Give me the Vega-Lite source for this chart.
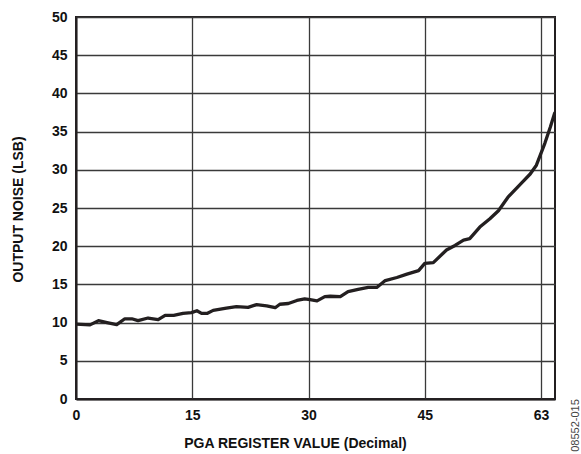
{
  "$schema": "https://vega.github.io/schema/vega-lite/v6.json",
  "width": 479,
  "height": 382,
  "autosize": {"type": "none"},
  "padding": {"left": 76, "top": 17, "right": 26, "bottom": 55},
  "background": "white",
  "config": {
    "view": {"stroke": "#231f20", "strokeWidth": 2},
    "font": "Liberation Sans",
    "axis": {
      "labelFont": "Liberation Sans",
      "labelFontWeight": "bold",
      "labelFontSize": 14,
      "labelColor": "#111",
      "titleFont": "Liberation Sans",
      "titleFontWeight": "bold",
      "titleFontSize": 14,
      "titleColor": "#111",
      "gridColor": "#3a3a3a",
      "gridWidth": 1.3,
      "gridOpacity": 1,
      "domainColor": "#231f20",
      "domainWidth": 2,
      "ticks": false
    }
  },
  "data": {
    "values": [
      {"reg": 0, "noise": 9.8},
      {"reg": 1.8, "noise": 9.7},
      {"reg": 2.9, "noise": 10.25},
      {"reg": 4.0, "noise": 10.0},
      {"reg": 5.25, "noise": 9.73},
      {"reg": 6.3, "noise": 10.5},
      {"reg": 7.2, "noise": 10.5},
      {"reg": 8.0, "noise": 10.25},
      {"reg": 9.3, "noise": 10.6},
      {"reg": 10.6, "noise": 10.4},
      {"reg": 11.5, "noise": 10.95},
      {"reg": 12.6, "noise": 10.95},
      {"reg": 13.8, "noise": 11.2},
      {"reg": 14.9, "noise": 11.3},
      {"reg": 15.6, "noise": 11.55},
      {"reg": 16.2, "noise": 11.2},
      {"reg": 16.9, "noise": 11.2},
      {"reg": 17.7, "noise": 11.6},
      {"reg": 19.4, "noise": 11.9},
      {"reg": 20.7, "noise": 12.1},
      {"reg": 22.2, "noise": 12.0},
      {"reg": 23.3, "noise": 12.35},
      {"reg": 24.6, "noise": 12.2},
      {"reg": 25.7, "noise": 11.95},
      {"reg": 26.3, "noise": 12.4},
      {"reg": 27.4, "noise": 12.5},
      {"reg": 28.5, "noise": 12.9},
      {"reg": 29.5, "noise": 13.1},
      {"reg": 30.2, "noise": 13.0},
      {"reg": 31.1, "noise": 12.85},
      {"reg": 32.1, "noise": 13.4},
      {"reg": 32.8, "noise": 13.45},
      {"reg": 34.1, "noise": 13.4},
      {"reg": 35.1, "noise": 14.05},
      {"reg": 36.4, "noise": 14.35},
      {"reg": 37.7, "noise": 14.6},
      {"reg": 38.8, "noise": 14.6},
      {"reg": 39.9, "noise": 15.5},
      {"reg": 41.4, "noise": 15.9},
      {"reg": 42.7, "noise": 16.35},
      {"reg": 44.2, "noise": 16.8},
      {"reg": 45.0, "noise": 17.75},
      {"reg": 46.1, "noise": 17.85},
      {"reg": 47.8, "noise": 19.5},
      {"reg": 48.9, "noise": 20.1},
      {"reg": 50.0, "noise": 20.8},
      {"reg": 50.8, "noise": 21.0},
      {"reg": 52.1, "noise": 22.5},
      {"reg": 53.4, "noise": 23.6},
      {"reg": 54.5, "noise": 24.65},
      {"reg": 55.8, "noise": 26.5},
      {"reg": 57.5, "noise": 28.3},
      {"reg": 58.6, "noise": 29.45},
      {"reg": 59.4, "noise": 30.6},
      {"reg": 60.5, "noise": 33.5},
      {"reg": 61.2, "noise": 35.6},
      {"reg": 61.75, "noise": 37.4}
    ]
  },
  "layer": [
    {
      "mark": {"type": "line", "color": "#231f20", "strokeWidth": 3.3, "strokeJoin": "round", "strokeCap": "round", "clip": true},
      "encoding": {
        "x": {
          "field": "reg",
          "type": "quantitative",
          "scale": {"domain": [0, 61.8], "nice": false, "zero": false},
          "axis": {
            "values": [0, 15, 30, 45, 60],
            "labelExpr": "datum.value == 60 ? '63' : datum.label",
            "labelPadding": 9,
            "labelFlush": false,
            "title": "PGA REGISTER VALUE (Decimal)",
            "titleX": 219,
            "titleY": 44,
            "titleAnchor": "middle",
            "titleAlign": "center",
            "titleBaseline": "middle"
          }
        },
        "y": {
          "field": "noise",
          "type": "quantitative",
          "scale": {"domain": [0, 50], "nice": false},
          "axis": {
            "values": [0, 5, 10, 15, 20, 25, 30, 35, 40, 45, 50],
            "labelPadding": 9,
            "labelFlush": false,
            "title": "OUTPUT NOISE (LSB)",
            "titleAngle": 270,
            "titleX": -58,
            "titleY": 192,
            "titleAlign": "center",
            "titleBaseline": "middle"
          }
        }
      }
    },
    {
      "mark": {"type": "line", "opacity": 0},
      "encoding": {
        "x": {"field": "reg", "type": "quantitative"},
        "y": {
          "field": "noise",
          "type": "quantitative",
          "axis": {
            "orient": "right",
            "domain": false,
            "labels": false,
            "ticks": false,
            "grid": false,
            "title": "08552-015",
            "titleFontWeight": "normal",
            "titleFontSize": 11,
            "titleColor": "#444",
            "titleAngle": 270,
            "titleX": 20,
            "titleY": 408,
            "titleAlign": "center",
            "titleBaseline": "middle"
          }
        }
      }
    }
  ],
  "resolve": {"axis": {"y": "independent"}}
}
